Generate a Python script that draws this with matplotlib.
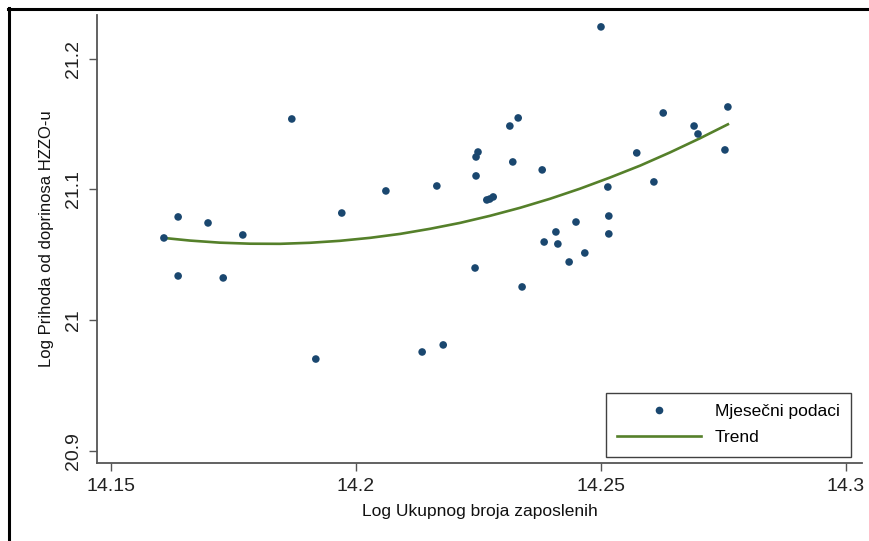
import matplotlib
matplotlib.use("Agg")
import matplotlib.pyplot as plt
from matplotlib.lines import Line2D

# Monthly data
x_data = [14.1608, 14.1637, 14.1637, 14.1698, 14.1729, 14.1769, 14.1869, 14.1918,
          14.1971, 14.2061, 14.2135, 14.2165, 14.2178, 14.2243, 14.2245, 14.2245,
          14.2249, 14.2267, 14.2273, 14.2280, 14.2314, 14.2320, 14.2331, 14.2339,
          14.2380, 14.2384, 14.2408, 14.2412, 14.2435, 14.2449, 14.2467, 14.2500,
          14.2514, 14.2516, 14.2516, 14.2573, 14.2608, 14.2627, 14.2690, 14.2698,
          14.2753, 14.2759]
y_data = [21.0628, 21.0789, 21.0337, 21.0743, 21.0322, 21.0651, 21.1539, 20.9701,
          21.0819, 21.0988, 20.9755, 21.1026, 20.9809, 21.0398, 21.1103, 21.1248,
          21.1286, 21.0919, 21.0926, 21.0942, 21.1485, 21.1210, 21.1547, 21.0253,
          21.1149, 21.0597, 21.0674, 21.0582, 21.0444, 21.0750, 21.0513, 21.2244,
          21.1018, 21.0796, 21.0659, 21.1279, 21.1057, 21.1585, 21.1485, 21.1424,
          21.1302, 21.1631]

# Trend curve
x_trend = [14.1608, 14.1661, 14.1722, 14.1784, 14.1845, 14.1906, 14.1967, 14.2029,
           14.2090, 14.2151, 14.2212, 14.2273, 14.2335, 14.2396, 14.2457, 14.2518,
           14.2580, 14.2641, 14.2702, 14.2759]
y_trend = [21.0628, 21.0608, 21.0592, 21.0584, 21.0583, 21.0591, 21.0606, 21.0629,
           21.0659, 21.0698, 21.0743, 21.0797, 21.0859, 21.0928, 21.1005, 21.1090,
           21.1182, 21.1283, 21.1391, 21.1498]

x_ticks = [14.15, 14.2, 14.25, 14.3]
x_ticklabels = ["14.15", "14.2", "14.25", "14.3"]
y_ticks = [20.9, 21.0, 21.1, 21.2]
y_ticklabels = ["20.9", "21", "21.1", "21.2"]

x_label = "Log Ukupnog broja zaposlenih"
y_label = "Log Prihoda od doprinosa HZZO-u"
legend_labels = ["Mjesečni podaci", "Trend"]

plt.rcParams['font.family'] = ['Liberation Sans', 'DejaVu Sans']

W, H = 869, 541
fig = plt.figure(figsize=(W / 100, H / 100), dpi=100)
fig.patch.set_facecolor("white")

ax = fig.add_axes([97 / W, 1 - 463 / H, (862 - 97) / W, (463 - 15) / H])
navy = "#1a476f"
green = "#55802a"
grey = "#555555"

ax.scatter(x_data, y_data, s=30, color=navy, edgecolors="none", zorder=3)
ax.plot(x_trend, y_trend, color=green, lw=1.9, zorder=2)

ax.set_xlim(14.14714, 14.30327)
ax.set_ylim(20.8905, 21.2335)
ax.set_xticks(x_ticks)
ax.set_xticklabels(x_ticklabels)
ax.set_yticks(y_ticks)
ax.set_yticklabels(y_ticklabels, rotation=90, va="center")

for s in ["top", "right"]:
    ax.spines[s].set_visible(False)
for s in ["left", "bottom"]:
    ax.spines[s].set_color(grey)
    ax.spines[s].set_linewidth(1.3)
ax.tick_params(axis="both", direction="out", length=5.5, width=1.0, color=grey,
               labelsize=14, labelcolor="#222222", pad=5)

ax.set_xlabel(x_label, fontsize=12.5, color="#111111", labelpad=7)
ax.set_ylabel(y_label, fontsize=12, color="#111111", labelpad=8)

handles = [Line2D([], [], marker="o", ls="none", color=navy, markersize=5.5, markeredgewidth=0),
           Line2D([], [], color=green, lw=1.9)]
leg = fig.legend(handles, legend_labels, loc="upper left",
                 bbox_to_anchor=(606 / W, 1 - 393 / H), bbox_transform=fig.transFigure,
                 fontsize=12.5, frameon=True, fancybox=False, handlelength=4.83,
                 handletextpad=0.8, borderpad=0.65, labelspacing=0.62, borderaxespad=0)
leg.get_frame().set_edgecolor("#111111")
leg.get_frame().set_linewidth(1.0)

# outer frame (top and left edges)
fig.add_artist(Line2D([8 / W, 1.0], [1 - 9 / H, 1 - 9 / H], color="black", lw=2.2,
                      transform=fig.transFigure))
fig.add_artist(Line2D([9 / W, 9 / W], [0, 1 - 8 / H], color="black", lw=2.2,
                      transform=fig.transFigure))

fig.savefig("out.png", dpi=100)
